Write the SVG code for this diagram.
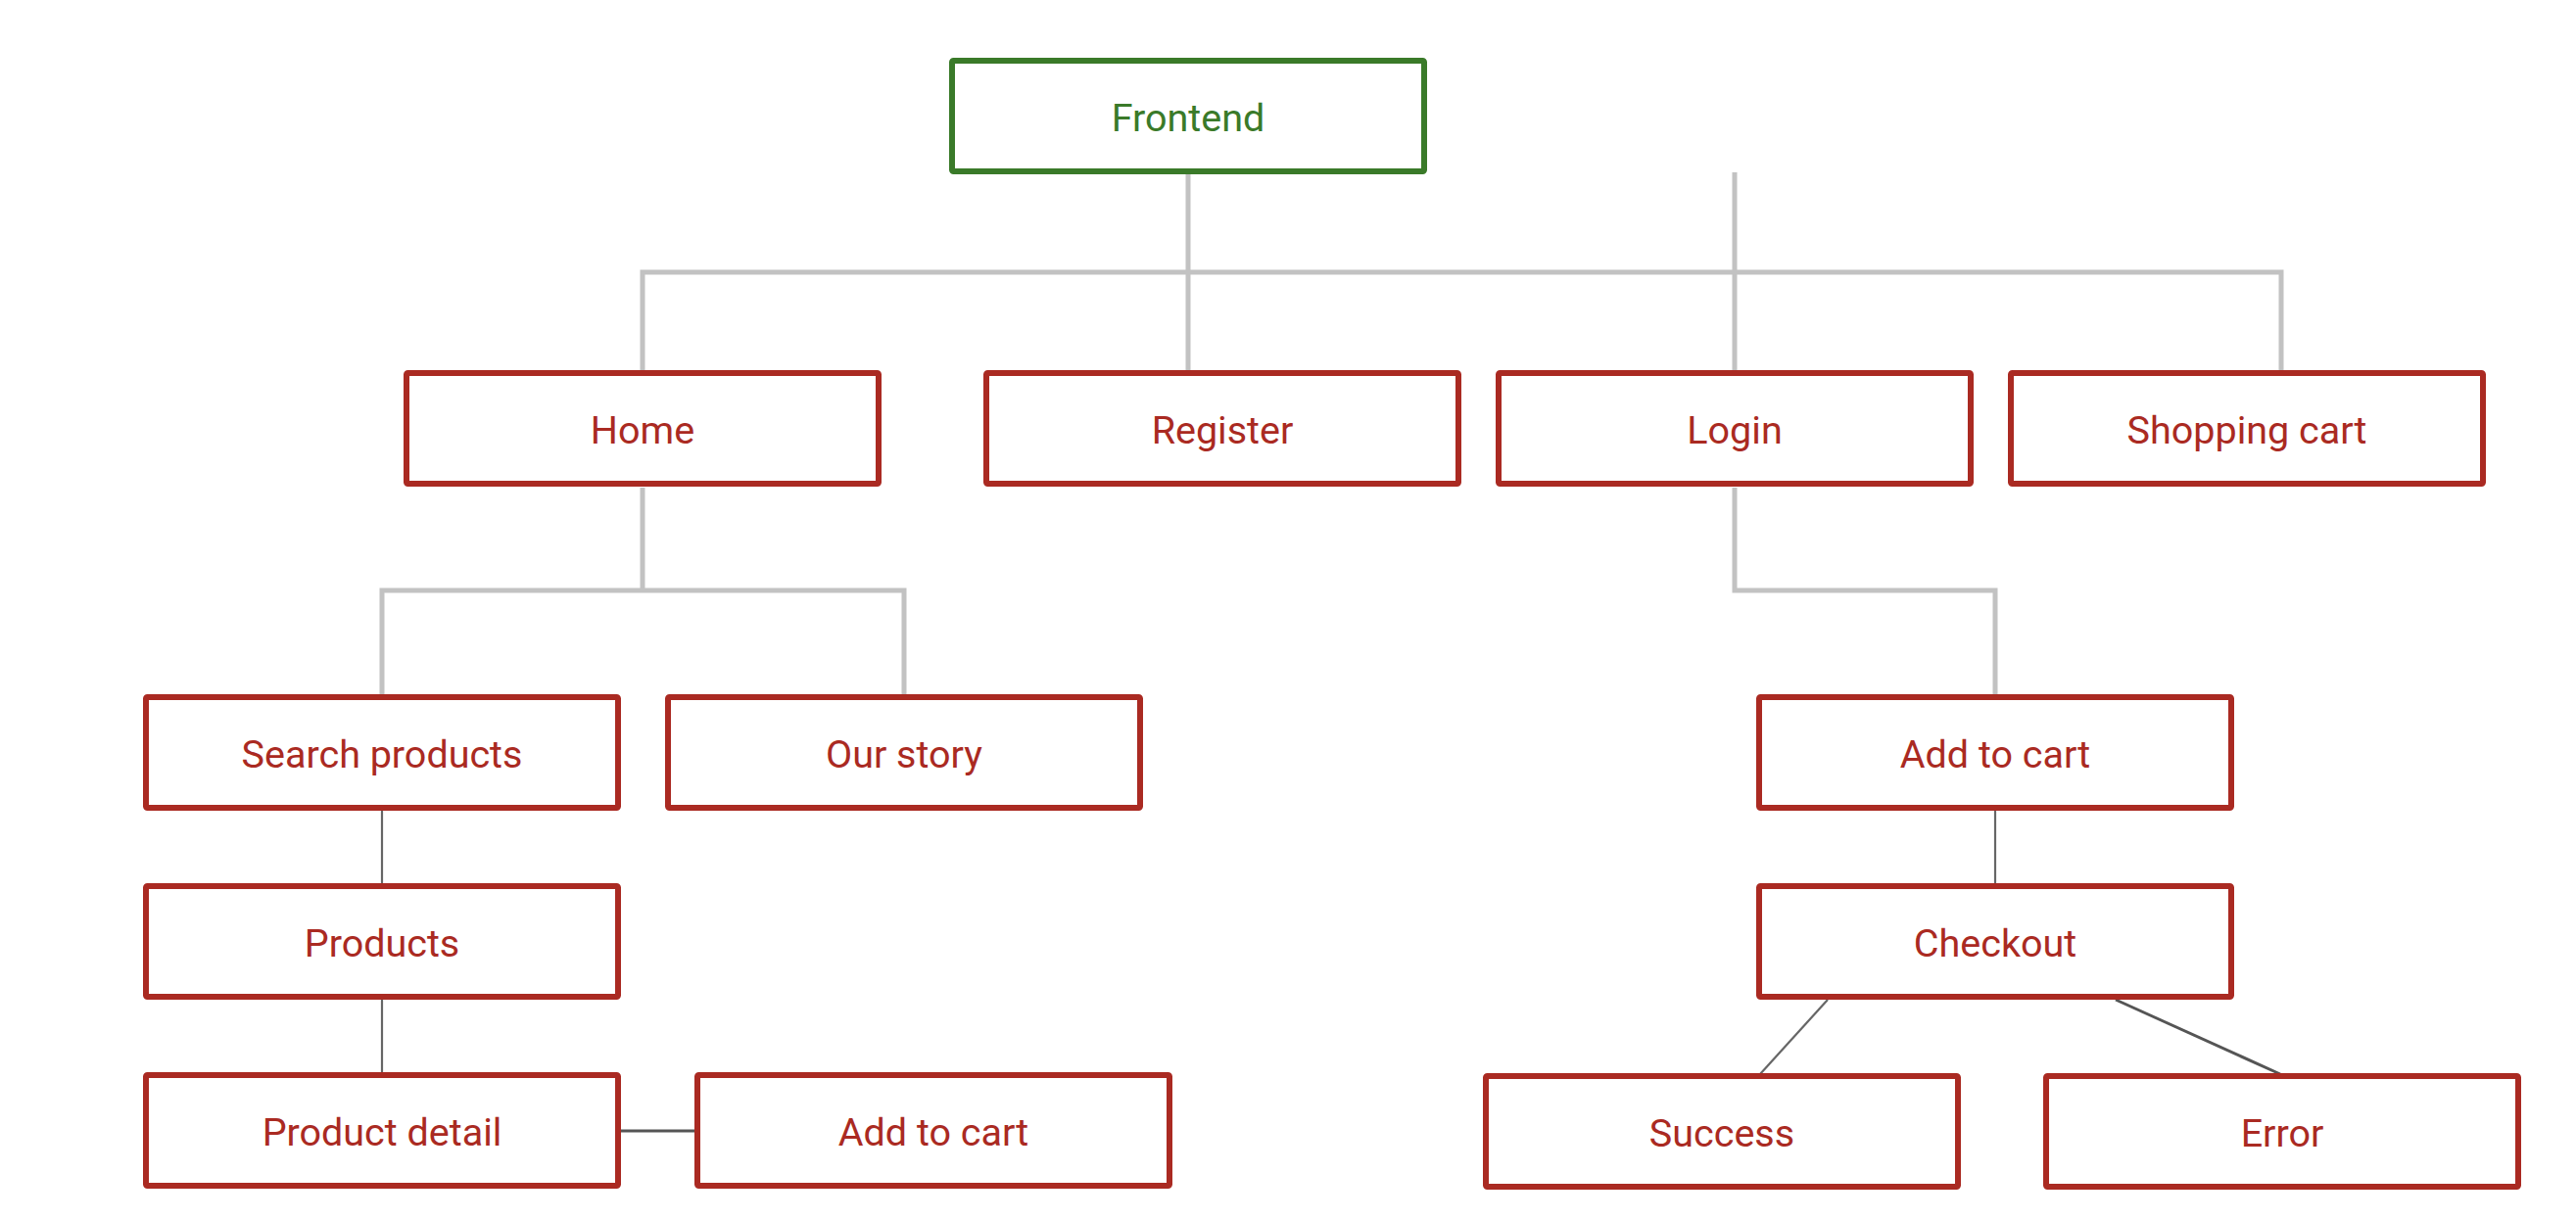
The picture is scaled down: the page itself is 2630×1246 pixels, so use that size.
<svg xmlns="http://www.w3.org/2000/svg" width="2630" height="1246" viewBox="0 0 2630 1246">
<style>
.box{fill:#ffffff;stroke:#aa2a22;stroke-width:6}
.root{fill:#ffffff;stroke:#3a7a29;stroke-width:6}
.lbl{font-family:Roboto,"Liberation Sans",sans-serif;font-size:39.5px;fill:#aa2a22;text-anchor:middle}
.rlbl{fill:#3a7a29}
.tree{fill:none;stroke:#c2c2c2;stroke-width:5}
.link{fill:none;stroke:#666666;stroke-width:2.2}
.link2{fill:none;stroke:#555555;stroke-width:3}
</style>
<rect width="2630" height="1246" fill="#ffffff"/>
<g id="connectors">
<path class="tree" d="M1213 178 V378"/>
<path class="tree" d="M656 378 V278 H2329 V378"/>
<path class="tree" d="M1771 176 V378"/>
<path class="tree" d="M656 498 V603"/>
<path class="tree" d="M390 709 V603 H923 V709"/>
<path class="tree" d="M1771 498 V603 H2037 V709"/>
<path class="link" d="M390 828 V902"/>
<path class="link" d="M390 1021 V1095"/>
<path class="link2" d="M633 1155 H709"/>
<path class="link" d="M2037 828 V902"/>
<path class="link" d="M1866 1021 L1797 1097"/>
<path class="link2" d="M2160 1021 L2328 1097"/>
</g>
<g id="frontend"><rect class="root" x="972" y="62" width="482" height="113" rx="1.5"/><text class="lbl rlbl" x="1213" y="134">Frontend</text></g>
<g id="home"><rect class="box" x="415" y="381" width="482" height="113" rx="1.5"/><text class="lbl" x="656" y="453">Home</text></g>
<g id="register"><rect class="box" x="1007" y="381" width="482" height="113" rx="1.5"/><text class="lbl" x="1248" y="453">Register</text></g>
<g id="login"><rect class="box" x="1530" y="381" width="482" height="113" rx="1.5"/><text class="lbl" x="1771" y="453">Login</text></g>
<g id="shopping-cart"><rect class="box" x="2053" y="381" width="482" height="113" rx="1.5"/><text class="lbl" x="2294" y="453">Shopping cart</text></g>
<g id="search-products"><rect class="box" x="149" y="712" width="482" height="113" rx="1.5"/><text class="lbl" x="390" y="784">Search products</text></g>
<g id="our-story"><rect class="box" x="682" y="712" width="482" height="113" rx="1.5"/><text class="lbl" x="923" y="784">Our story</text></g>
<g id="add-to-cart-right"><rect class="box" x="1796" y="712" width="482" height="113" rx="1.5"/><text class="lbl" x="2037" y="784">Add to cart</text></g>
<g id="products"><rect class="box" x="149" y="905" width="482" height="113" rx="1.5"/><text class="lbl" x="390" y="977">Products</text></g>
<g id="checkout"><rect class="box" x="1796" y="905" width="482" height="113" rx="1.5"/><text class="lbl" x="2037" y="977">Checkout</text></g>
<g id="product-detail"><rect class="box" x="149" y="1098" width="482" height="113" rx="1.5"/><text class="lbl" x="390" y="1170">Product detail</text></g>
<g id="add-to-cart-left"><rect class="box" x="712" y="1098" width="482" height="113" rx="1.5"/><text class="lbl" x="953" y="1170">Add to cart</text></g>
<g id="success"><rect class="box" x="1517" y="1099" width="482" height="113" rx="1.5"/><text class="lbl" x="1758" y="1171">Success</text></g>
<g id="error"><rect class="box" x="2089" y="1099" width="482" height="113" rx="1.5"/><text class="lbl" x="2330" y="1171">Error</text></g>
</svg>
